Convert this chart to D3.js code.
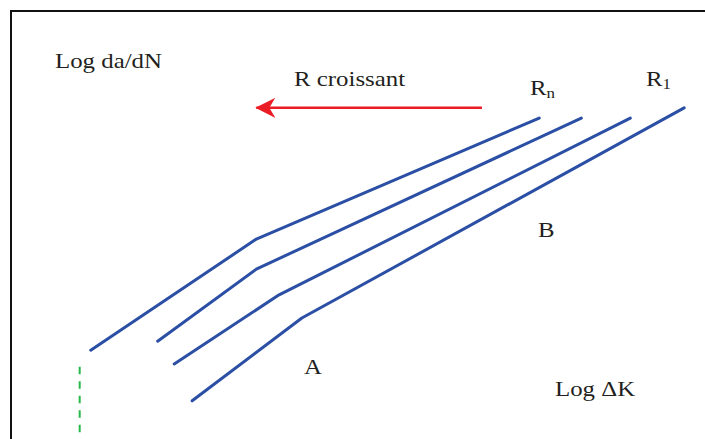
<!DOCTYPE html>
<html>
<head>
<meta charset="utf-8">
<script src="https://cdn.jsdelivr.net/npm/d3@7"></script>
<style>
  html, body { margin: 0; padding: 0; background: #fff; }
  svg { display: block; }
  text { font-family: "Liberation Serif", "Times New Roman", serif; fill: #231f20; }
</style>
</head>
<body>
<svg id="chart" width="705" height="439"></svg>
<script>
// Schematic crack-growth curves (log da/dN vs log ΔK), one per stress ratio R.
// Coordinates are in arbitrary log units (0–100 on each axis).
const curveNames = ["Rn", "R3", "R2", "R1"];
const curveX = [
  [11.7, 35.7, 76.7],
  [21.4, 35.7, 82.8],
  [23.8, 39.0, 89.9],
  [26.4, 42.3, 97.7]
];
const curveY = [
  [20.7, 46.6, 74.8],
  [22.8, 39.6, 74.8],
  [17.5, 33.6, 74.8],
  [8.9, 28.2, 77.2]
];
// Threshold marker (dashed) and the "increasing R" arrow
const thresholdX = [10.1, 10.1];
const thresholdY = [1.6, 17.2];
const arrowX = [68.4, 35.7];
const arrowY = [77.2, 77.2];

const svg = d3.select("#chart");
const W = 705, H = 439;

const x = d3.scaleLinear().domain([0, 100]).range([10, 700]);
const y = d3.scaleLinear().domain([0, 100]).range([439, 10]);

// Frame: left and top edges
svg.append("path")
  .attr("d", `M11,${H} L11,11 L${W},11`)
  .attr("fill", "none")
  .attr("stroke", "#111")
  .attr("stroke-width", 2);

const line = d3.line().x(d => x(d[0])).y(d => y(d[1]));

svg.append("g").selectAll("path")
  .data(curveNames.map((n, i) => curveX[i].map((v, j) => [v, curveY[i][j]])))
  .join("path")
  .attr("d", line)
  .attr("fill", "none")
  .attr("stroke", "#2b4fa5")
  .attr("stroke-width", 3)
  .attr("stroke-linecap", "round")
  .attr("stroke-linejoin", "round");

// Dashed threshold line
svg.append("path")
  .attr("d", line(thresholdX.map((v, i) => [v, thresholdY[i]])))
  .attr("stroke", "#27b84a")
  .attr("stroke-width", 2)
  .attr("stroke-dasharray", "7.5,7");

// Red arrow (tip sits at the end of the path)
svg.append("defs").append("marker")
  .attr("id", "arrowhead")
  .attr("viewBox", "0 0 20 20")
  .attr("refX", 19).attr("refY", 10)
  .attr("markerWidth", 20).attr("markerHeight", 20)
  .attr("markerUnits", "userSpaceOnUse")
  .attr("orient", "auto")
  .append("path")
  .attr("d", "M20,10 L0,0 L6,10 L0,20 Z")
  .attr("fill", "#ec1c24");

svg.append("path")
  .attr("d", line(arrowX.map((v, i) => [v, arrowY[i]])))
  .attr("stroke", "#ec1c24")
  .attr("stroke-width", 2.5)
  .attr("fill", "none")
  .attr("marker-end", "url(#arrowhead)");

// Labels (slightly wide serif face)
const fs = 22;
function label(px, py, str) {
  return svg.append("text")
    .attr("transform", `translate(${px},${py}) scale(1.13,1)`)
    .attr("font-size", fs)
    .text(str);
}
label(55, 68, "Log da/dN");
label(294, 86, "R croissant");
label(555, 396, "Log ΔK");
label(304, 374, "A");
label(538, 237, "B");

const rn = label(530, 95, "R");
rn.append("tspan").attr("font-size", 15).attr("dy", 3).text("n");

const r1 = label(646, 86, "R");
r1.append("tspan").attr("font-size", 15).attr("dy", 3).text("1");
</script>
</body>
</html>
